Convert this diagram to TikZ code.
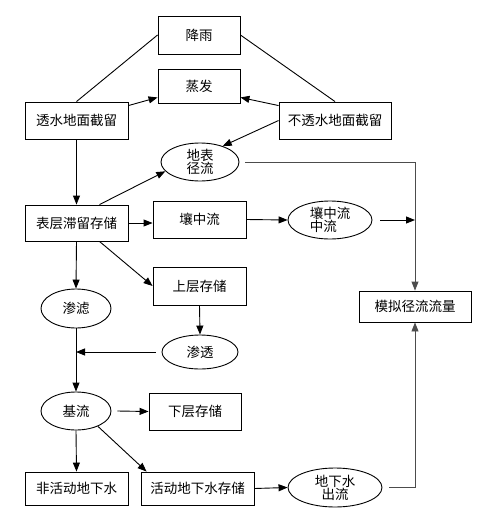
\documentclass[tikz,border=0pt]{standalone}
\usepackage{fontspec}
\newfontfamily\cjk{Noto Sans CJK SC}
\usetikzlibrary{shapes.geometric,arrows.meta,calc}
\begin{document}
\begin{tikzpicture}[x=1pt,y=-1pt,
  every node/.style={font=\cjk\fontsize{13.5}{15}\selectfont, inner sep=0pt, line width=0.9pt},
  box/.style={draw, rectangle, minimum width=#1},
  oval/.style={draw, ellipse, minimum width=#1, align=center},
  arr/.style={draw, line width=0.9pt, -{Triangle[length=9pt,width=7pt]}},
  ln/.style={draw, line width=0.9pt},
  gr/.style={draw=black!70}]
\useasboundingbox (0,0) rectangle (491,517);
\node[box=82pt, minimum height=38pt] (rain) at (199,35) {降雨};
\node[box=82pt, minimum height=34pt] (evap) at (199,86) {蒸发};
\node[box=103pt, minimum height=37pt] (perm) at (76.5,120.5) {透水地面截留};
\node[box=112pt, minimum height=37pt] (imp) at (335,120.5) {不透水地面截留};
\node[oval=78pt, minimum height=38pt] (surf) at (200,162) {地表\\[-2pt]径流};
\node[box=103pt, minimum height=36pt] (dep) at (76.5,223) {表层滞留存储};
\node[box=93pt, minimum height=37pt] (inter) at (199.5,219.5) {壤中流};
\node[oval=84pt, minimum height=38pt, align=left] (inter2) at (330,220) {壤中流\\[-2pt]中流};
\node[box=93pt, minimum height=38pt] (upper) at (199.5,286) {上层存储};
\node[oval=70pt, minimum height=39pt] (perc) at (76,308.5) {渗滤};
\node[box=112pt, minimum height=31pt] (sim) at (415,306.5) {模拟径流流量};
\node[oval=76pt, minimum height=34pt] (seep) at (200,352) {渗透};
\node[oval=70pt, minimum height=38pt] (base) at (76,411) {基流};
\node[box=92pt, minimum height=37pt] (lower) at (195,411.5) {下层存储};
\node[box=103pt, minimum height=33pt] (inact) at (76.5,488.5) {非活动地下水};
\node[box=113pt, minimum height=33pt] (act) at (197.5,488.5) {活动地下水存储};
\node[oval=94pt, minimum height=39pt] (gwout) at (335,487.5) {地下水\\[-2pt]出流};
% connectors
\draw[ln] (rain.west) -- (perm.north);
\draw[ln] (rain.east) -- (imp.north);
\draw[arr] ($(perm.north east)+(0,4)$) -- ($(evap.south west)+(0,-6)$);
\draw[arr] ($(imp.north west)+(0,4)$) -- ($(evap.south east)+(0,-6)$);
\draw[arr] (imp.west) -- (surf.35);
\draw[arr] (perm.south) -- (dep.north);
\draw[arr] ($(dep.north)+(23,0)$) -- (surf.195);
\draw[arr] (dep.east) -- (dep.east -| inter.west);
\draw[arr] (inter.east) -- (inter2.west);
\draw[arr] ($(inter2.east)+(8,0)$) -- (inter2.east -| sim.north);
\draw[arr,gr] ($(surf.east)+(6,0)$) -| (sim.north);
\draw[arr] ($(dep.south)+(23,0)$) -- (upper.west);
\draw[arr] (dep.south) -- (perc.north);
\draw[arr] (upper.south) -- (seep.north);
\draw[arr] (perc.south) -- (base.north);
\draw[arr] ($(seep.west)+(-6,0)$) -- (seep.west -| perc.south);
\draw[arr] ($(base.east)+(6,0)$) -- (lower.west);
\draw[arr] (base.-35) -- ($(act.north west)+(6,0)$);
\draw[arr] (base.south) -- (inact.north);
\draw[arr] (act.east) -- (gwout.west);
\draw[arr,gr] ($(gwout.east)+(7,0)$) -| (sim.south);
\end{tikzpicture}
\end{document}
